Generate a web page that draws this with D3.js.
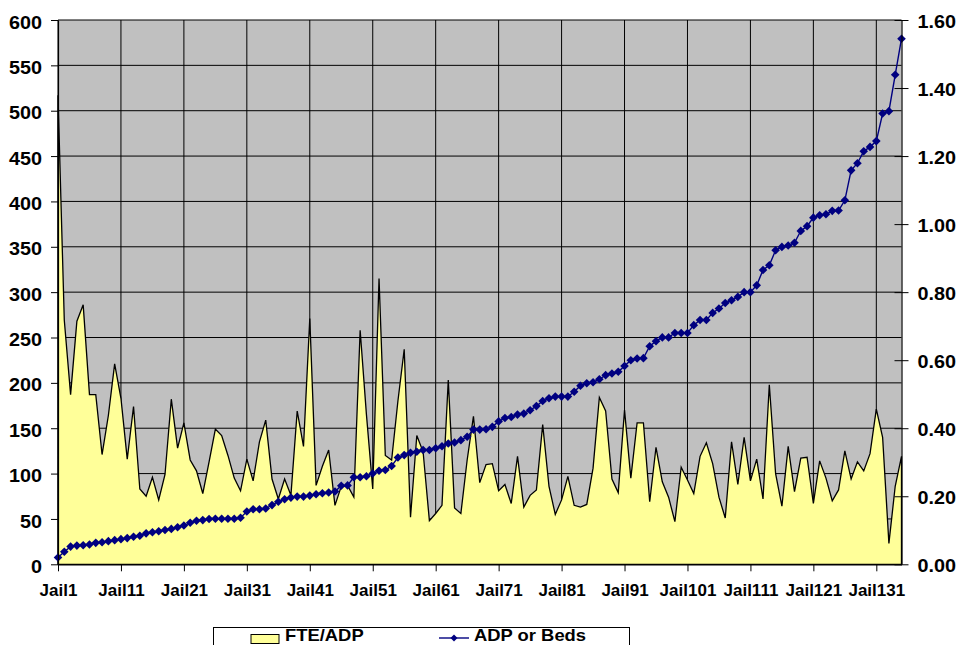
<!DOCTYPE html>
<meta charset="utf-8" />
<script src="https://d3js.org/d3.v7.min.js"></script>
<style>
  body { margin: 0; background: #fff; }
  svg text {
    font-family: "Liberation Sans", Arial, Helvetica, sans-serif;
    font-weight: bold;
    fill: #000;
  }
</style>
<div id="my_dataviz"></div>
<script>
  // categories
  var jails = d3.range(1, 136).map(function (i) { return "Jail" + i; });

  // FTE/ADP (left axis)
  var fteAdp = [
    517, 269, 187, 268, 286, 187, 187, 121, 164, 221,
    183, 116, 174, 83, 75, 96, 71, 99, 182, 128,
    156, 115, 103, 78, 113, 149, 142, 120, 95, 81,
    116, 92, 135, 159, 94, 72, 94, 76, 169, 130,
    271, 87, 108, 126, 65, 86, 87, 74, 258, 165,
    83, 315, 120, 115, 180, 237, 52, 142, 124, 48,
    56, 65, 203, 62, 56, 115, 163, 90, 110, 111,
    81, 88, 67, 119, 63, 76, 82, 154, 86, 55,
    71, 97, 65, 63, 66, 106, 184, 169, 94, 79,
    170, 95, 156, 156, 69, 129, 91, 74, 47, 107,
    93, 78, 119, 134, 111, 74, 51, 135, 88, 140,
    92, 116, 72, 198, 100, 64, 130, 80, 117, 118,
    67, 114, 95, 70, 82, 125, 94, 113, 103, 122,
    171, 140, 23, 86, 119
  ];

  // ADP or Beds (right axis)
  var adpBeds = [
    0.020, 0.037, 0.052, 0.055, 0.056, 0.058, 0.063, 0.065, 0.068, 0.071,
    0.074, 0.077, 0.081, 0.084, 0.091, 0.094, 0.097, 0.101, 0.104, 0.109,
    0.114, 0.122, 0.128, 0.130, 0.133, 0.134, 0.134, 0.134, 0.134, 0.137,
    0.155, 0.162, 0.162, 0.164, 0.174, 0.184, 0.191, 0.196, 0.199, 0.199,
    0.202, 0.206, 0.209, 0.211, 0.214, 0.231, 0.232, 0.256, 0.256, 0.259,
    0.267, 0.275, 0.277, 0.289, 0.314, 0.321, 0.328, 0.331, 0.336, 0.336,
    0.341, 0.347, 0.355, 0.358, 0.365, 0.375, 0.396, 0.396, 0.397, 0.404,
    0.420, 0.430, 0.433, 0.440, 0.443, 0.453, 0.465, 0.480, 0.488, 0.493,
    0.493, 0.493, 0.507, 0.525, 0.532, 0.535, 0.544, 0.556, 0.561, 0.566,
    0.583, 0.600, 0.605, 0.606, 0.641, 0.656, 0.667, 0.667, 0.680, 0.680,
    0.680, 0.703, 0.718, 0.718, 0.739, 0.752, 0.768, 0.776, 0.786, 0.800,
    0.800, 0.820, 0.865, 0.879, 0.923, 0.933, 0.937, 0.945, 0.980, 0.994,
    1.019, 1.026, 1.029, 1.039, 1.040, 1.070, 1.158, 1.179, 1.214, 1.227,
    1.244, 1.325, 1.332, 1.439, 1.545
  ];

  // tick values
  var leftTicks = [0, 50, 100, 150, 200, 250, 300, 350, 400, 450, 500, 550, 600];
  var rightTicks = [0, 0.2, 0.4, 0.6, 0.8, 1.0, 1.2, 1.4, 1.6];
  var labelJails = jails.filter(function (d, i) { return i % 10 === 0; });

  var margin = { top: 20, right: 57.5, bottom: 80.7, left: 58 },
    width = 959 - margin.left - margin.right,
    height = 645 - margin.top - margin.bottom;

  var svg = d3.select("#my_dataviz")
    .append("svg")
    .attr("width", 959)
    .attr("height", 645)
    .append("g")
    .attr("transform", "translate(" + margin.left + "," + margin.top + ")");

  var x = d3.scalePoint().domain(jails).range([0, width]);
  var yL = d3.scaleLinear().domain([0, 600]).range([height, 0]);
  var yR = d3.scaleLinear().domain([0, 1.6]).range([height, 0]);

  // plot background
  svg.append("rect")
    .attr("width", width)
    .attr("height", height)
    .attr("fill", "#c0c0c0");

  // gridlines
  svg.append("g").selectAll("line")
    .data(leftTicks)
    .enter().append("line")
    .attr("x1", 0).attr("x2", width)
    .attr("y1", function (d) { return yL(d); })
    .attr("y2", function (d) { return yL(d); })
    .attr("stroke", "#000").attr("stroke-width", 1);
  svg.append("g").selectAll("line")
    .data(labelJails)
    .enter().append("line")
    .attr("x1", function (d) { return x(d); })
    .attr("x2", function (d) { return x(d); })
    .attr("y1", 0).attr("y2", height)
    .attr("stroke", "#000").attr("stroke-width", 1);

  // FTE/ADP area
  var area = d3.area()
    .x(function (d, i) { return x(jails[i]); })
    .y0(yL(0))
    .y1(function (d) { return yL(d); });
  svg.append("path")
    .datum(fteAdp)
    .attr("d", area)
    .attr("fill", "#ffff99")
    .attr("stroke", "#000")
    .attr("stroke-width", 1.3)
    .attr("stroke-linejoin", "miter");

  // ADP or Beds line
  var line = d3.line()
    .x(function (d, i) { return x(jails[i]); })
    .y(function (d) { return yR(d); });
  svg.append("path")
    .datum(adpBeds)
    .attr("d", line)
    .attr("fill", "none")
    .attr("stroke", "#000080")
    .attr("stroke-width", 1.4);
  svg.append("g").selectAll("path")
    .data(adpBeds)
    .enter().append("path")
    .attr("transform", function (d, i) {
      return "translate(" + x(jails[i]) + "," + yR(d) + ")";
    })
    .attr("d", "M0,-4.3L4.3,0L0,4.3L-4.3,0Z")
    .attr("fill", "#000080");

  // axes
  var gL = svg.append("g")
    .call(d3.axisLeft(yL).tickValues(leftTicks).tickSize(7).tickSizeOuter(0)
      .tickPadding(9).tickFormat(d3.format("d")));
  gL.selectAll("text")
    .style("font-size", "18px")
    .attr("dy", "0.45em")
    .style("transform-box", "fill-box")
    .style("transform-origin", "right center")
    .style("transform", "scaleX(1.1)");

  var gR = svg.append("g")
    .attr("transform", "translate(" + width + ",0)")
    .call(d3.axisRight(yR).tickValues(rightTicks).tickSize(7).tickSizeOuter(0)
      .tickPadding(9).tickFormat(d3.format(".2f")));
  gR.selectAll(".tick line").attr("x1", -7);
  gR.selectAll("text")
    .style("font-size", "18px")
    .attr("dy", "0.42em")
    .style("transform-box", "fill-box")
    .style("transform-origin", "left center")
    .style("transform", "scaleX(1.1)");

  var gB = svg.append("g")
    .attr("transform", "translate(0," + height + ")")
    .call(d3.axisBottom(x).tickValues(labelJails).tickSize(7).tickSizeOuter(0)
      .tickPadding(13));
  gB.selectAll("text").style("font-size", "17px");

  svg.selectAll(".domain").attr("stroke", "#000").attr("stroke-width", 1.2);
  svg.selectAll(".tick line").attr("stroke", "#000");

  // legend
  var legend = d3.select("svg").append("g");
  legend.append("rect")
    .attr("x", 213.5).attr("y", 627.5)
    .attr("width", 416).attr("height", 30)
    .attr("fill", "#fff").attr("stroke", "#000");
  legend.append("rect")
    .attr("x", 251).attr("y", 634.5)
    .attr("width", 28).attr("height", 9)
    .attr("fill", "#ffff99").attr("stroke", "#000");
  legend.append("path")
    .attr("transform", "translate(454,638)")
    .attr("d", "M0,-3.5L3.5,0L0,3.5L-3.5,0Z")
    .attr("fill", "#000080");
  legend.append("line")
    .attr("x1", 439).attr("x2", 469)
    .attr("y1", 638).attr("y2", 638)
    .attr("stroke", "#000080").attr("stroke-width", 1.4);
  legend.selectAll("text.lg")
    .data([["FTE/ADP", 285], ["ADP or Beds", 474]])
    .enter().append("text")
    .attr("class", "lg")
    .attr("x", function (d) { return d[1]; })
    .attr("y", 641.5)
    .style("font-size", "16px")
    .style("transform-box", "fill-box")
    .style("transform-origin", "left center")
    .style("transform", "scaleX(1.15)")
    .text(function (d) { return d[0]; });
</script>
